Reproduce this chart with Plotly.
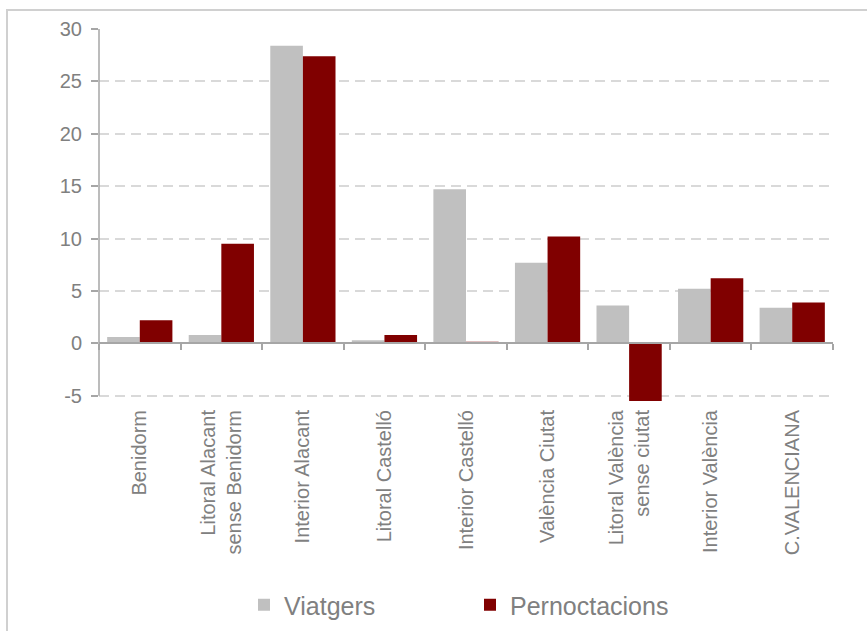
import plotly.graph_objects as go

categories = [
    "Benidorm",
    "Litoral Alacant<br>sense Benidorm",
    "Interior Alacant",
    "Litoral Castelló",
    "Interior Castelló",
    "València Ciutat",
    "Litoral València<br>sense ciutat",
    "Interior València",
    "C.VALENCIANA",
]
viatgers = [0.6, 0.8, 28.4, 0.3, 14.7, 7.7, 3.6, 5.2, 3.4]
pernoctacions = [2.2, 9.5, 27.4, 0.8, 0.15, 10.2, -5.5, 6.2, 3.9]
y_ticks = [-5, 0, 5, 10, 15, 20, 25, 30]
y_min, y_max = -5, 30          # visible axis extent
y_lo = -5.6                    # room for the bar that dips below -5

FONT = "Arial, Liberation Sans, sans-serif"
GRAY_TXT = "#808080"
AXIS_C = "#a6a6a6"

# layout in pixels
W, H = 867, 631
PX_PER_UNIT = (396 - 29) / (y_max - y_min)
top = 29
bottom_px = 396 + (y_min - y_lo) * PX_PER_UNIT
left, right = 99, 833

fig = go.Figure()
fig.add_trace(go.Bar(name="Viatgers", x=categories, y=viatgers, cliponaxis=False,
                     marker=dict(color="#c0c0c0", line=dict(width=0))))
fig.add_trace(go.Bar(name="Pernoctacions", x=categories, y=pernoctacions, cliponaxis=False,
                     marker=dict(color="#800000", line=dict(width=0))))
# invisible helper trace carrying the category labels on the bottom axis
fig.add_trace(go.Scatter(x=categories, y=[None] * len(categories), xaxis="x2",
                         mode="markers", showlegend=False, hoverinfo="skip"))

n = len(categories)
fig.update_layout(
    width=W, height=H, autosize=False,
    margin=dict(l=left, r=W - right, t=top, b=H - bottom_px, pad=0, autoexpand=False),
    paper_bgcolor="white", plot_bgcolor="white",
    font=dict(family=FONT, color=GRAY_TXT),
    barmode="group", bargap=0.2, bargroupgap=0,
    showlegend=True,
    legend=dict(orientation="h", xref="container", yref="container",
                x=470 / W, xanchor="center", y=1 - 605 / H, yanchor="middle",
                font=dict(size=25, color=GRAY_TXT, family=FONT),
                entrywidth=181, entrywidthmode="pixels",
                bgcolor="rgba(0,0,0,0)"),
    xaxis=dict(type="category", range=[-0.5, n - 0.5], anchor="free",
               position=(0 - y_lo) / (y_max - y_lo),
               showline=True, linecolor=AXIS_C, linewidth=1.5, automargin=False,
               ticks="outside", tickson="boundaries", ticklen=6, tickcolor=AXIS_C,
               tickwidth=1.5, showticklabels=False, showgrid=False, zeroline=False),
    xaxis2=dict(type="category", range=[-0.5, n - 0.5], overlaying="x", anchor="y",
                side="bottom", showline=False, ticks="", showgrid=False, zeroline=False,
                automargin=False,
                tickangle=-90, tickfont=dict(size=20, color=GRAY_TXT, family=FONT),
                ticklabelstandoff=3),
    yaxis=dict(range=[y_lo, y_max], tickvals=y_ticks, ticktext=[str(v) for v in y_ticks],
               showline=False, automargin=False,
               ticks="outside", ticklen=7, tickcolor=AXIS_C, tickwidth=1.5,
               tickfont=dict(size=20, color=GRAY_TXT, family=FONT),
               ticklabelstandoff=5,
               showgrid=True, gridcolor="#d9d9d9", gridwidth=1.5, griddash="10px,6px",
               zeroline=False),
)

# y-axis line spanning the visible extent only
fig.add_shape(type="line", xref="paper", yref="y", x0=0, x1=0, y0=y_min, y1=y_max,
              line=dict(color=AXIS_C, width=1.5), layer="above")

# outer chart frame (partially cropped in the reference)
fig.add_shape(type="rect", xref="paper", yref="paper",
              x0=(7 - left) / (right - left), x1=1.5, y0=-2,
              y1=1 + (top - 10) / (bottom_px - top),
              line=dict(color="#d0d0d0", width=2), fillcolor="rgba(0,0,0,0)", layer="below")

fig.write_html("out.html", config={"displayModeBar": False},
               post_script="document.body.style.margin='0';")
